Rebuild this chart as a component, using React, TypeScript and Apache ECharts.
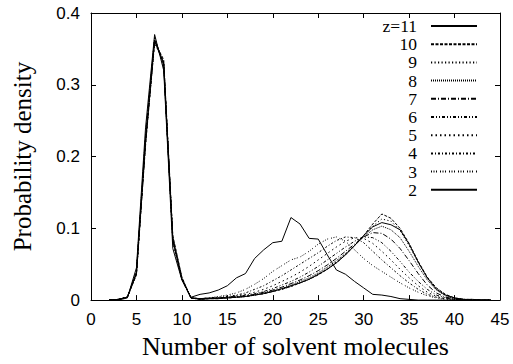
import React, { useEffect, useRef } from "react";
import * as echarts from "echarts";

// x positions (number of solvent molecules)
const X = [2,3,4,5,6,7,8,9,10,11,12,13,14,15,16,17,18,19,20,21,22,23,24,25,26,27,28,29,30,31,32,33,34,35,36,37,38,39,40,41,42,43,44];

const Z11 = [0,0.001,0.004,0.038,0.22,0.362,0.33,0.085,0.03, 0.003,0.001,0.002,0.002,0.003,0.004,0.005,0.007,0.009,0.012, 0.016,0.02,0.024,0.029,0.036,0.043,0.052,0.063,0.076,0.09, 0.102,0.108,0.105,0.098,0.078,0.053,0.031,0.015,0.007,0.003, 0.001,0.001,0,0];
const Z10 = [0,0.001,0.004,0.035,0.215,0.36,0.335,0.09,0.032, 0.003,0.001,0.002,0.002,0.003,0.004,0.005,0.007,0.009,0.012, 0.015,0.019,0.024,0.029,0.035,0.043,0.052,0.063,0.076,0.09, 0.106,0.12,0.114,0.1,0.079,0.054,0.032,0.017,0.008,0.003, 0.001,0,0,0];
const Z9 = [0,0.001,0.005,0.037,0.218,0.358,0.332,0.088,0.031, 0.003,0.002,0.002,0.003,0.003,0.004,0.005,0.007,0.009,0.012, 0.015,0.019,0.024,0.029,0.036,0.044,0.053,0.064,0.076,0.089, 0.103,0.113,0.11,0.097,0.076,0.052,0.031,0.016,0.007,0.003, 0.001,0.001,0,0];
const Z8 = [0,0.001,0.004,0.036,0.22,0.36,0.328,0.086,0.03, 0.003,0.002,0.002,0.003,0.004,0.004,0.005,0.007,0.01,0.013, 0.016,0.021,0.026,0.031,0.038,0.046,0.055,0.065,0.076,0.088, 0.098,0.103,0.098,0.087,0.068,0.047,0.028,0.014,0.006,0.002, 0.001,0,0,0];
const Z7 = [0,0.001,0.004,0.037,0.222,0.362,0.33,0.085,0.03, 0.003,0.002,0.002,0.003,0.004,0.005,0.006,0.008,0.011,0.014, 0.018,0.023,0.028,0.034,0.041,0.049,0.058,0.068,0.078,0.088, 0.094,0.093,0.085,0.072,0.055,0.037,0.021,0.01,0.004,0.002, 0.001,0,0,0];
const Z6 = [0,0.001,0.004,0.038,0.225,0.363,0.33,0.084,0.029, 0.003,0.002,0.003,0.003,0.004,0.005,0.007,0.009,0.012,0.016, 0.021,0.026,0.032,0.039,0.047,0.056,0.065,0.074,0.082,0.088, 0.087,0.08,0.068,0.054,0.039,0.026,0.015,0.007,0.003,0.001, 0.001,0,0,0];
const Z5 = [0,0.001,0.004,0.039,0.225,0.365,0.328,0.083,0.029, 0.003,0.002,0.003,0.003,0.004,0.006,0.008,0.011,0.015,0.02, 0.026,0.032,0.039,0.047,0.056,0.065,0.074,0.082,0.087,0.086, 0.079,0.068,0.056,0.043,0.031,0.02,0.011,0.005,0.002,0.001, 0,0,0,0];
const Z4 = [0,0.001,0.004,0.04,0.228,0.366,0.326,0.082,0.029, 0.003,0.002,0.003,0.004,0.005,0.007,0.01,0.015,0.02,0.027, 0.034,0.042,0.05,0.058,0.066,0.075,0.083,0.088,0.087,0.08, 0.068,0.056,0.045,0.034,0.024,0.015,0.008,0.004,0.002,0.001, 0,0,0,0];
const Z3 = [0,0.001,0.004,0.04,0.23,0.366,0.325,0.08,0.028, 0.003,0.002,0.003,0.005,0.007,0.01,0.015,0.022,0.03,0.04, 0.048,0.056,0.06,0.068,0.078,0.085,0.088,0.082,0.07,0.058, 0.048,0.04,0.032,0.024,0.017,0.011,0.006,0.003,0.001,0, 0,0,0,0];
const Z2 = [0,0,0.003,0.045,0.24,0.37,0.32,0.072,0.028, 0.004,0.008,0.01,0.014,0.02,0.031,0.037,0.058,0.07,0.08, 0.082,0.115,0.106,0.086,0.085,0.063,0.042,0.036,0.026,0.017, 0.008,0.007,0.005,0.002,0.001,0,0,0,0,0, 0,0,0,0];

const SERIES_NAMES = ["z=11", "10", "9", "8", "7", "6", "5", "4", "3", "2"];
const SERIES_VALUES = [Z11, Z10, Z9, Z8, Z7, Z6, Z5, Z4, Z3, Z2];
const DASHES: (number[] | "solid")[] = [
  "solid",
  [3, 1.5],
  [1.2, 2.3],
  [1, 1],
  [5, 2, 1, 2],
  [3, 2, 1, 2, 1, 2],
  [1.5, 3],
  [2, 2, 1, 2],
  [1, 1.5, 1, 1.5, 1, 3],
  "solid",
];

const X_TICKS = [0, 5, 10, 15, 20, 25, 30, 35, 40, 45];
const Y_TICKS = [0, 0.1, 0.2, 0.3, 0.4];

export default function App() {
  const ref = useRef<HTMLDivElement>(null);
  useEffect(() => {
    if (!ref.current) return;
    const chart = echarts.init(ref.current, undefined, { renderer: "svg" });
    const sans = "Liberation Sans";
    const serif = "Liberation Serif";
    const tickStyle = { show: true, inside: true, length: 5, lineStyle: { color: "#000", width: 1 } };
    const series = SERIES_NAMES.map((name, i) => ({
      name,
      type: "line",
      xAxisIndex: 0,
      yAxisIndex: 0,
      symbol: "none",
      data: X.map((x, j) => [x, SERIES_VALUES[i][j]]),
      lineStyle: { color: "#000", width: 1, type: DASHES[i] },
      itemStyle: { color: "#000" },
      emphasis: { disabled: true },
    }));
    chart.setOption({
      animation: false,
      grid: { left: 91, right: 13, top: 13, bottom: 54 },
      legend: {
        orient: "vertical",
        right: 35,
        top: 17,
        padding: 0,
        align: "right",
        itemWidth: 46,
        itemHeight: 10,
        itemGap: 0.2,
        selectedMode: false,
        itemStyle: { opacity: 0 },
        formatter: (n: string) => `{t|${n}}`,
        textStyle: {
          fontFamily: serif,
          fontSize: 17.5,
          color: "#000",
          rich: { t: { fontFamily: serif, fontSize: 17.5, color: "#000", padding: [0, 9, 0, 0] } },
        },
        data: SERIES_NAMES,
      },
      xAxis: [
        {
          type: "value",
          min: 0,
          max: 45,
          interval: 5,
          name: "Number of solvent molecules",
          nameLocation: "middle",
          nameGap: 32,
          nameTextStyle: { fontFamily: serif, fontSize: 26, color: "#000" },
          axisLine: { show: true, lineStyle: { color: "#000", width: 1 } },
          axisTick: tickStyle,
          axisLabel: {
            fontFamily: sans,
            fontSize: 17,
            color: "#000",
            margin: 11,
            customValues: X_TICKS,
          },
          splitLine: { show: false },
        },
        {
          type: "value",
          position: "top",
          min: 0,
          max: 45,
          interval: 5,
          axisLine: { show: true, onZero: false, lineStyle: { color: "#000", width: 1 } },
          axisTick: tickStyle,
          axisLabel: { show: false },
          splitLine: { show: false },
        },
      ],
      yAxis: [
        {
          type: "value",
          min: 0,
          max: 0.4,
          interval: 0.1,
          name: "Probability density",
          nameLocation: "middle",
          nameGap: 56,
          nameTextStyle: { fontFamily: serif, fontSize: 25, color: "#000" },
          axisLine: { show: true, lineStyle: { color: "#000", width: 1 } },
          axisTick: tickStyle,
          axisLabel: {
            fontFamily: sans,
            fontSize: 17,
            color: "#000",
            margin: 11,
            customValues: Y_TICKS,
          },
          splitLine: { show: false },
        },
        {
          type: "value",
          position: "right",
          min: 0,
          max: 0.4,
          interval: 0.1,
          axisLine: { show: true, onZero: false, lineStyle: { color: "#000", width: 1 } },
          axisTick: tickStyle,
          axisLabel: { show: false },
          splitLine: { show: false },
        },
      ],
      series,
    });
    return () => chart.dispose();
  }, []);
  return (
    <div
      ref={ref}
      style={{ position: "fixed", left: 0, top: 0, width: 513, height: 364, background: "#fff" }}
    />
  );
}
